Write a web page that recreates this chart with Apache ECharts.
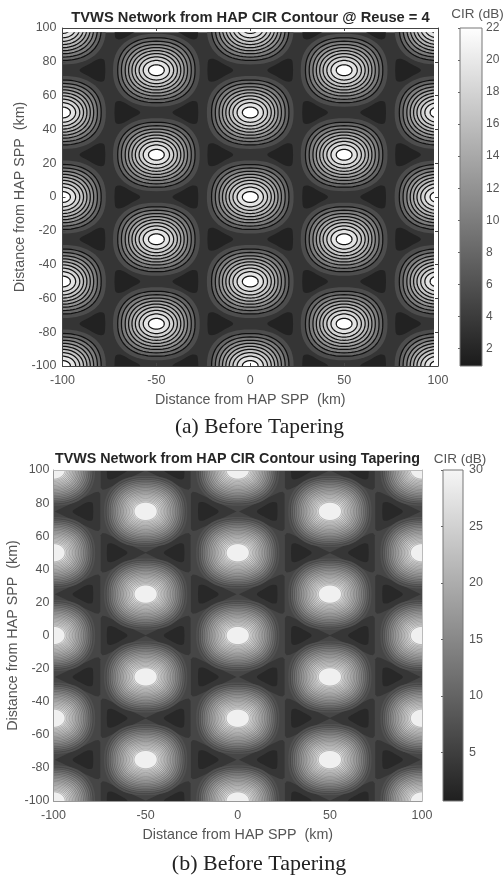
<!DOCTYPE html>
<html><head><meta charset="utf-8">
<style>html,body{margin:0;padding:0;background:#fff}#c{width:503px;height:876px;filter:blur(0.3px)}</style>
<script src="https://cdn.jsdelivr.net/npm/echarts@6/dist/echarts.min.js"></script>
</head><body><div id="c"></div>
<script>
// ---- values ----
const titleA = 'TVWS Network from HAP CIR Contour @ Reuse = 4';
const titleB = 'TVWS Network from HAP CIR Contour using Tapering';
const captionA = '(a) Before Tapering';
const captionB = '(b) Before Tapering';
const xLabel = 'Distance from HAP SPP  (km)';
const yLabel = 'Distance from HAP SPP  (km)';
const barName = 'CIR (dB)';
const barTicksA = [2,4,6,8,10,12,14,16,18,20,22];
const barTicksB = [5,10,15,20,25,30];

// peak cells (km)
const cellsColumnsEven = [-100,0,100];
const cellsRowsEven = [-100,-50,0,50,100];
const cellsColumnsOdd = [-50,50];
const cellsRowsOdd = [-75,-25,25,75];

// low-CIR pockets: [x (km), pointing direction]
const pocketsOnOddRowsA = [[-84,-1],[-16,1],[16,-1],[84,1]];
const pocketsOnEvenRowsA = [[-65.5,1],[-34.5,-1],[34.5,1],[65.5,-1]];
const wedgesOnOddRowsB = [[-87,-1],[-13,1],[13,-1],[87,1]];
const wedgesOnEvenRowsB = [[-62,1],[-38,-1],[38,1],[62,-1]];
const pocketsOnOddRowsB = [[-84,-1],[-16,1],[16,-1],[84,1]];
const pocketsOnEvenRowsB = [[-65.5,1],[-34.5,-1],[34.5,1],[65.5,-1]];

// contour bands, outermost first (half-width km, half-height km, squareness, dB)
const ringHalfWidthA  = [23.1,20.6,18.6,16.6,14.8,13,11.2,9.2,7,4.2];
const ringHalfHeightA = [21.6,19.2,17.2,15.2,13.4,11.6,9.8,7.9,5.8,3.2];
const ringSquareA     = [2.35,2.3,2.25,2.2,2.15,2.1,2.05,2,2,2];
const ringLevelA      = [5.6,8,10,12,13.6,15.2,16.6,18,19.5,22];
const ringHalfWidthB  = [22.6,21.4,20.3,19.2,18.2,17.2,16.3,15.4,14.5,13.6,12.8,12,11.2,10.4,9.6,8.8,8,7.2,6.3];
const ringHalfHeightB = [21.6,20.4,19.3,18.2,17.2,16.2,15.3,14.4,13.5,12.6,11.8,11,10.2,9.4,8.6,7.8,7,6.3,5.5];
const ringSquareB     = [2.35,2.3,2.3,2.25,2.25,2.2,2.2,2.15,2.15,2.1,2.1,2.05,2.05,2,2,2,2,2,2];
const ringLevelB      = [7.5,9.2,10.8,12.4,13.9,15.3,16.6,17.8,19,20.1,21.1,22.1,23,23.9,24.7,25.5,26.3,27,29.2];

// base levels (dB)
const backgroundA = 3.4, pocketA = 1.6;
const backgroundB = 6, wedgeB = 3.8, pocketB = 1.9;
const rangeA = [0.9,22], rangeB = [0.7,30];
const rampA = ['#1a1a1a','#ffffff'], rampB = ['#1f1f1f','#f6f6f6'];

// outlines of a right-pointing pocket / wedge, km about its centre
const pocketOutlineA = [[-6.7,-3],[-6,-6.3],[-3,-6.5],[2,-3.5],[6.9,0],[2,3.5],[-3,6.5],[-6,6.3],[-6.7,3]];
const pocketOutlineB = [[-5.5,-2.5],[-5,-5.3],[-2.5,-5.5],[2,-3],[5.6,0],[2,3],[-2.5,5.5],[-5,5.3],[-5.5,2.5]];
const wedgeOutlineB = [[-12.4,-10.6],[-11.4,-11.9],[-9.6,-11.6],[12.4,0],[-9.6,11.6],[-11.4,11.9],[-12.4,10.6]];

// ---- building shapes ----
function colorOf(v, range, ramp){
  const t = Math.max(0,Math.min(1,(v-range[0])/(range[1]-range[0])));
  return echarts.color.lerp(t, ramp);
}
function ringOutline(rx, ry, n){
  const pts = [];
  for (let a = 0; a < 72; a++){
    const t = a/72*2*Math.PI, c = Math.cos(t), s = Math.sin(t);
    pts.push([rx*Math.sign(c)*Math.pow(Math.abs(c),2/n), ry*Math.sign(s)*Math.pow(Math.abs(s),2/n)]);
  }
  return pts;
}
function cells(){
  const out = [];
  cellsColumnsEven.forEach(x=>cellsRowsEven.forEach(y=>out.push([x,y])));
  cellsColumnsOdd.forEach(x=>cellsRowsOdd.forEach(y=>out.push([x,y])));
  return out;
}
function addPockets(list, oddList, evenList, outline, fill){
  const place = (rows, items) => rows.forEach(y => items.forEach(([x,d]) => {
    list.push({pts: outline.map(p=>[x+d*p[0], y+p[1]]), fill, smooth: outline.length===9?0.35:0});
  }));
  place(cellsRowsOdd, oddList);
  place(cellsRowsEven, evenList);
}
function addRings(list, hw, hh, sq, lv, range, ramp, stroke, lw, skipFirst){
  cells().forEach(([cx,cy]) => {
    hw.forEach((rx,i) => {
      list.push({pts: ringOutline(rx,hh[i],sq[i]).map(p=>[cx+p[0],cy+p[1]]),
        fill: colorOf(lv[i],range,ramp),
        stroke: (skipFirst && i===0) ? null : stroke, lw});
    });
  });
}
const square = [[-100,-100],[100,-100],[100,100],[-100,100]];

const shapesA = [{pts:square, fill:colorOf(backgroundA,rangeA,rampA)}];
addPockets(shapesA, pocketsOnOddRowsA, pocketsOnEvenRowsA, pocketOutlineA, colorOf(pocketA,rangeA,rampA));
addRings(shapesA, ringHalfWidthA, ringHalfHeightA, ringSquareA, ringLevelA, rangeA, rampA, '#111', 1.25, true);

const shapesB = [{pts:square, fill:colorOf(backgroundB,rangeB,rampB)}];
addPockets(shapesB, wedgesOnOddRowsB, wedgesOnEvenRowsB, wedgeOutlineB, colorOf(wedgeB,rangeB,rampB));
addPockets(shapesB, pocketsOnOddRowsB, pocketsOnEvenRowsB, pocketOutlineB, colorOf(pocketB,rangeB,rampB));
addRings(shapesB, ringHalfWidthB, ringHalfHeightB, ringSquareB, ringLevelB, rangeB, rampB, 'rgba(25,25,25,0.4)', 0.6, true);

function fieldSeries(shapes, xi, yi){
  return {type:'custom', xAxisIndex:xi, yAxisIndex:yi, clip:true, silent:true, z:2, progressive:0,
    data: shapes.map((s,i)=>[s.pts[0][0], s.pts[0][1], i]),
    renderItem(params, api){
      const s = shapes[params.dataIndex];
      return {type:'polygon',
        shape:{points:s.pts.map(p=>api.coord(p)), smooth:s.smooth||0},
        style:{fill:s.fill, stroke:s.stroke||null, lineWidth:s.lw||0}};
    }};
}
function barSeries(range, ramp, xi, yi){
  return {type:'custom', xAxisIndex:xi, yAxisIndex:yi, clip:false, silent:true, z:2,
    data:[[0,range[1],1,range[0]]],
    renderItem(params, api){
      const a = api.coord([0,range[1]]), b = api.coord([1,range[0]]);
      return {type:'rect', shape:{x:a[0],y:a[1],width:b[0]-a[0],height:b[1]-a[1]},
        style:{fill:new echarts.graphic.LinearGradient(0,0,0,1,[{offset:0,color:ramp[1]},{offset:1,color:ramp[0]}]),
               stroke:'#777', lineWidth:1}};
    }};
}

const ink = '#555', font = 'Liberation Sans';
const frame = (extra) => Object.assign({
  axisLine:{show:true,onZero:false,lineStyle:{color:'#444',width:1}},
  axisTick:{show:true,inside:true,length:3,lineStyle:{color:'#444',width:1}},
  splitLine:{show:false}, z:6
}, extra);
const lab = {color:ink, fontFamily:font, fontSize:12.5, showMinLabel:true, showMaxLabel:true, hideOverlap:false};
const nm = {color:ink, fontFamily:font, fontSize:14.3};
const noAxis = (g,t,a,b)=>({type:'value', gridIndex:g, min:a, max:b, show:false});
const freeGrid = (o)=>Object.assign({outerBoundsMode:'none',containLabel:false},o);

const option = {
  animation:false, backgroundColor:'#fff',
  title:[
    {text:titleA,left:245.5,top:5,textAlign:'center',textStyle:{fontFamily:font,fontSize:14.7,fontWeight:'bold',color:'#262626'}},
    {text:barName,left:472.5,top:2.5,textAlign:'center',textStyle:{fontFamily:font,fontSize:13.5,fontWeight:'normal',color:ink}},
    {text:captionA,left:254.5,top:411,textAlign:'center',textStyle:{fontFamily:'Liberation Serif',fontSize:21.5,fontWeight:'normal',color:'#222'}},
    {text:titleB,left:232.5,top:447,textAlign:'center',textStyle:{fontFamily:font,fontSize:14.3,fontWeight:'bold',color:'#262626'}},
    {text:barName,left:455,top:447,textAlign:'center',textStyle:{fontFamily:font,fontSize:13.5,fontWeight:'normal',color:ink}},
    {text:captionB,left:254,top:848,textAlign:'center',textStyle:{fontFamily:'Liberation Serif',fontSize:22,fontWeight:'normal',color:'#222'}}
  ],
  grid:[
    freeGrid({left:62.5,top:28,width:375.5,height:338}),
    freeGrid({left:62.5,top:32.2,width:370.8,height:333.8}),
    freeGrid({left:460,top:28,width:22,height:338}),
    freeGrid({left:53.5,top:470,width:368.5,height:331}),
    freeGrid({left:443,top:470,width:20,height:331})
  ],
  xAxis:[
    frame({type:'value',gridIndex:0,min:-100,max:100,interval:50,position:'bottom',axisLabel:Object.assign({margin:8},lab),
      name:xLabel,nameLocation:'middle',nameGap:27,nameTextStyle:nm}),
    frame({type:'value',gridIndex:0,min:-100,max:100,interval:50,position:'top',axisLabel:{show:false}}),
    noAxis(1,'x',-100,97.5),
    noAxis(2,'x',0,1),
    frame({type:'value',gridIndex:3,min:-100,max:100,interval:50,position:'bottom',axisLabel:Object.assign({margin:8},lab),
      name:xLabel,nameLocation:'middle',nameGap:27,nameTextStyle:nm,
      axisLine:{show:true,onZero:false,lineStyle:{color:'#999',width:1}},axisTick:{show:false}}),
    frame({type:'value',gridIndex:3,min:-100,max:100,interval:50,position:'top',axisLabel:{show:false},
      axisLine:{show:true,onZero:false,lineStyle:{color:'#bbb',width:1}},axisTick:{show:false}}),
    noAxis(4,'x',0,1)
  ],
  yAxis:[
    frame({type:'value',gridIndex:0,min:-100,max:100,interval:20,position:'left',axisLabel:Object.assign({margin:6},lab),
      name:yLabel,nameLocation:'middle',nameGap:35.5,nameRotate:90,nameMoveOverlap:false,nameTextStyle:nm}),
    frame({type:'value',gridIndex:0,min:-100,max:100,interval:20,position:'right',axisLabel:{show:false}}),
    noAxis(1,'y',-100,97.5),
    {type:'value',gridIndex:2,min:rangeA[0],max:rangeA[1],position:'right',
      axisLine:{show:false},splitLine:{show:false},z:6,
      axisTick:{show:true,inside:true,length:2,lineStyle:{color:'#666'},customValues:barTicksA},
      axisLabel:Object.assign({margin:4,customValues:barTicksA},lab,{fontSize:12})},
    frame({type:'value',gridIndex:3,min:-100,max:100,interval:20,position:'left',axisLabel:Object.assign({margin:4},lab),
      name:yLabel,nameLocation:'middle',nameGap:33.5,nameRotate:90,nameMoveOverlap:false,nameTextStyle:nm,
      axisLine:{show:true,onZero:false,lineStyle:{color:'#999',width:1}},axisTick:{show:false}}),
    frame({type:'value',gridIndex:3,min:-100,max:100,interval:20,position:'right',axisLabel:{show:false},
      axisLine:{show:true,onZero:false,lineStyle:{color:'#bbb',width:1}},axisTick:{show:false}}),
    {type:'value',gridIndex:4,min:rangeB[0],max:rangeB[1],position:'right',
      axisLine:{show:false},splitLine:{show:false},z:6,
      axisTick:{show:true,inside:true,length:2,lineStyle:{color:'#666'},customValues:barTicksB},
      axisLabel:Object.assign({margin:6,customValues:barTicksB},lab,{fontSize:12.5})}
  ],
  series:[
    fieldSeries(shapesA,2,2),
    barSeries(rangeA,rampA,3,3),
    fieldSeries(shapesB,4,4),
    barSeries(rangeB,rampB,6,6)
  ]
};
echarts.init(document.getElementById('c'),null,{renderer:'canvas'}).setOption(option);
</script></body></html>
